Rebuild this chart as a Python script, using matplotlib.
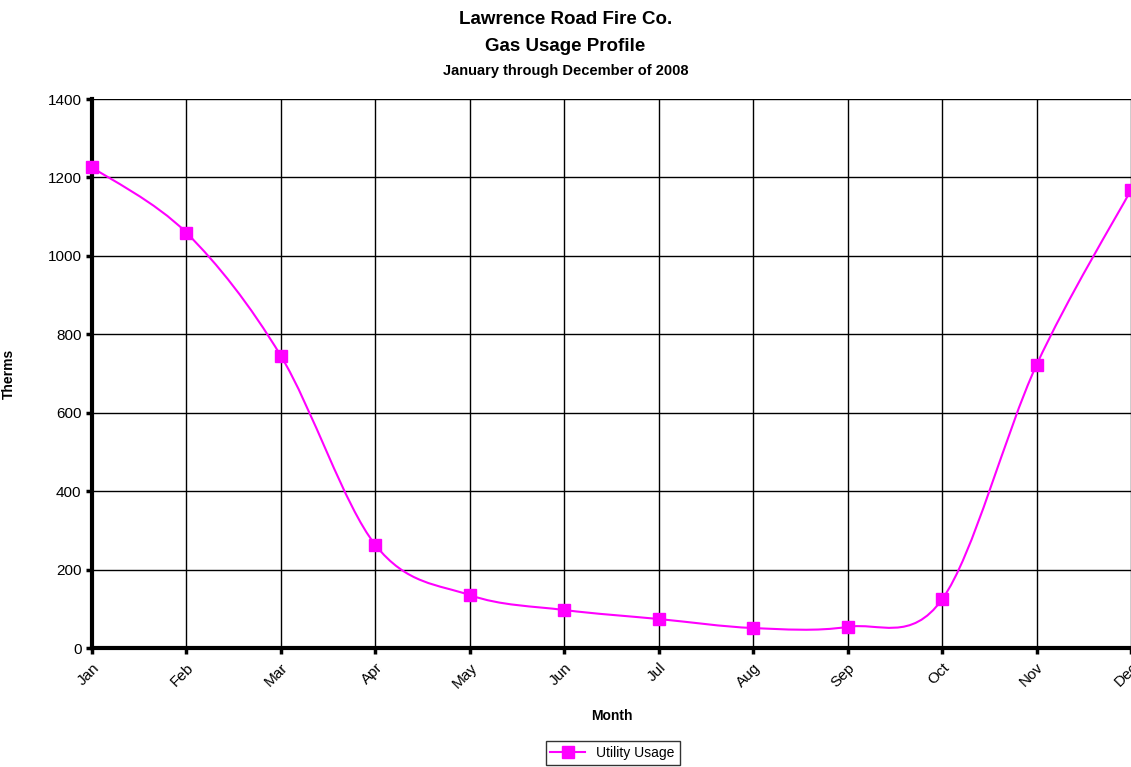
import numpy as np
import matplotlib
matplotlib.use("Agg")
import matplotlib.pyplot as plt
from matplotlib.path import Path
from matplotlib.patches import PathPatch
from matplotlib.lines import Line2D

plt.rcParams['font.family'] = ['Liberation Sans', 'DejaVu Sans']

months = ['Jan', 'Feb', 'Mar', 'Apr', 'May', 'Jun',
          'Jul', 'Aug', 'Sep', 'Oct', 'Nov', 'Dec']
therms = [1226, 1059, 745, 263, 135, 97, 74, 51, 54, 124, 722, 1168]

color = '#FF00FF'

fig = plt.figure(figsize=(11.31, 7.67), dpi=100)
ax = fig.add_axes([0.0813, 0.1551, 0.9187, 0.7158])

x = np.arange(len(months), dtype=float)
y = np.array(therms, dtype=float)

# smoothed line (bezier through the points, like the spreadsheet's smoothing)
verts = [(x[0], y[0])]
codes = [Path.MOVETO]
n = len(x)
for i in range(n - 1):
    p0 = np.array([x[max(i - 1, 0)], y[max(i - 1, 0)]])
    p1 = np.array([x[i], y[i]])
    p2 = np.array([x[i + 1], y[i + 1]])
    p3 = np.array([x[min(i + 2, n - 1)], y[min(i + 2, n - 1)]])
    c1 = p1 + (p2 - p0) / 6.0
    c2 = p2 - (p3 - p1) / 6.0
    verts += [tuple(c1), tuple(c2), tuple(p2)]
    codes += [Path.CURVE4] * 3
ax.add_patch(PathPatch(Path(verts, codes), facecolor='none', edgecolor=color,
                       lw=1.5, zorder=3, clip_on=False))
ax.plot(x, y, linestyle='none', marker='s', markersize=8, color=color,
        zorder=4, clip_on=False)

ax.set_xlim(0, 11)
ax.set_ylim(0, 1400)
ax.set_yticks(range(0, 1401, 200))
ax.set_xticks(x)
ax.set_xticklabels(months, rotation=45, ha='right', va='top',
                   rotation_mode='anchor', fontsize=11)
ax.tick_params(axis='y', labelsize=11, length=4, width=2.5, direction='out')
ax.tick_params(axis='x', length=4, width=2.5, direction='out', pad=5)

ax.grid(True, color='black', linewidth=1)
ax.set_axisbelow(True)
for side in ['top', 'right']:
    ax.spines[side].set_visible(False)
ax.spines['left'].set_linewidth(3)
ax.spines['bottom'].set_linewidth(3)

ax.set_xlabel('Month', fontsize=10, fontweight='bold')
ax.xaxis.set_label_coords(0.5, -0.111)
ax.set_ylabel('Therms', fontsize=10, fontweight='bold')
ax.yaxis.set_label_coords(-0.0735, 0.5)

fig.text(0.5, 0.978, 'Lawrence Road Fire Co.', ha='center', va='center',
         fontsize=13.5, fontweight='bold')
fig.text(0.5, 0.944, 'Gas Usage Profile', ha='center', va='center',
         fontsize=13.5, fontweight='bold')
fig.text(0.5, 0.912, 'January through December of 2008', ha='center',
         va='center', fontsize=10.5, fontweight='bold')
# nudge titles down a little
for t in fig.texts:
    t.set_y(t.get_position()[1] - 0.004)

handle = Line2D([], [], color=color, marker='s', markersize=8, lw=1.5)
leg = fig.legend([handle], ['Utility Usage'], loc='center',
                 bbox_to_anchor=(0.5416, 0.018), fontsize=10, frameon=True,
                 fancybox=False, edgecolor='black', handlelength=2.5,
                 borderpad=0.35)
leg.get_frame().set_linewidth(1)

fig.savefig('out.png', dpi=100)
